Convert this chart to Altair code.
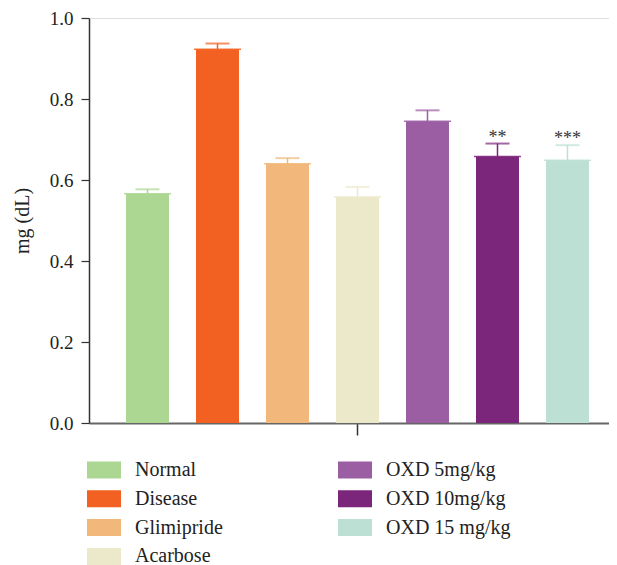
import altair as alt
import pandas as pd

groups = ["Normal", "Disease", "Glimipride", "Acarbose",
          "OXD 5mg/kg", "OXD 10mg/kg", "OXD 15 mg/kg"]
means = [0.566, 0.923, 0.640, 0.558, 0.745, 0.658, 0.649]
sems = [0.011, 0.014, 0.014, 0.025, 0.027, 0.032, 0.037]
stars = ["", "", "", "", "", "**", "***"]
colors = ["#acd793", "#f26122", "#f2b77b", "#ece9cb",
          "#9b5ea3", "#7c267b", "#bce1d4"]
y_ticks = [0.0, 0.2, 0.4, 0.6, 0.8, 1.0]

df = pd.DataFrame({
    "set": ["all"] * len(groups),
    "group": groups,
    "mean": means,
    "upper": [m + s for m, s in zip(means, sems)],
    "stars": stars,
})

FONT = "Liberation Serif"

x = alt.X("set:N", title=None,
          scale=alt.Scale(paddingInner=0, paddingOuter=0.0616, align=0.649,
                          round=False),
          axis=alt.Axis(labels=False, ticks=True, tickSize=12, tickWidth=1.5,
                        tickColor="#333333", domainColor="#666666",
                        domainWidth=2))
xo = alt.XOffset("group:N", sort=groups,
                 scale=alt.Scale(domain=groups, paddingInner=0.386,
                                 paddingOuter=0, round=False))
y = alt.Y("mean:Q", title="mg (dL)",
          scale=alt.Scale(domain=[0, 1], nice=False, zero=True),
          axis=alt.Axis(values=y_ticks, format=".1f", tickSize=8, tickWidth=1.2,
                        tickColor="#333333", domainColor="#333333",
                        domainWidth=1.5, labelFont=FONT, labelFontSize=19,
                        labelColor="#222222", labelPadding=8, titleFont=FONT,
                        titleFontSize=20, titleFontWeight="normal",
                        titleColor="#222222", titlePadding=17, grid=False))

bars = alt.Chart(df).mark_bar().encode(
    x=x, xOffset=xo, y=y,
    color=alt.Color("group:N",
                    scale=alt.Scale(domain=groups, range=colors),
                    legend=alt.Legend(
                        title=None, orient="none", legendX=5, legendY=442,
                        columns=2, direction="vertical",
                        symbolType="M-1.7,-0.85H1.7V0.85H-1.7Z",
                        symbolSize=400, symbolStrokeWidth=0,
                        labelFont=FONT, labelFontSize=20, labelColor="#222222",
                        labelOffset=21, rowPadding=8.8, columnPadding=115,
                        labelLimit=300)),
)

top_edge = alt.Chart(df).mark_tick(thickness=1.5, size=47, opacity=0.85).encode(
    x=x, xOffset=xo, y="mean:Q",
    fill=alt.Fill("group:N", scale=alt.Scale(domain=groups, range=colors),
                  legend=None),
)

err_rule = alt.Chart(df).mark_rule(strokeWidth=1.5).encode(
    x=x, xOffset=xo, y="mean:Q", y2="upper:Q",
    stroke=alt.Stroke("group:N", scale=alt.Scale(domain=groups, range=colors),
                      legend=None),
)

err_cap = alt.Chart(df).mark_tick(thickness=2, size=24).encode(
    x=x, xOffset=xo, y="upper:Q",
    fill=alt.Fill("group:N", scale=alt.Scale(domain=groups, range=colors),
                  legend=None),
)

star_text = alt.Chart(df).mark_text(font=FONT, fontSize=18, color="#333333",
                                    baseline="middle", dy=-6).encode(
    x=x, xOffset=xo, y="upper:Q", text="stars:N",
)

chart = alt.layer(bars, top_edge, err_rule, err_cap, star_text).properties(
    width=520, height=405,
    autosize=alt.AutoSizeParams(type="none"),
    padding={"left": 81, "top": 10, "right": 0, "bottom": 145},
).configure_view(stroke=None).configure(background="white")

chart.save("out.html", embed_options={"renderer": "svg", "actions": False})
